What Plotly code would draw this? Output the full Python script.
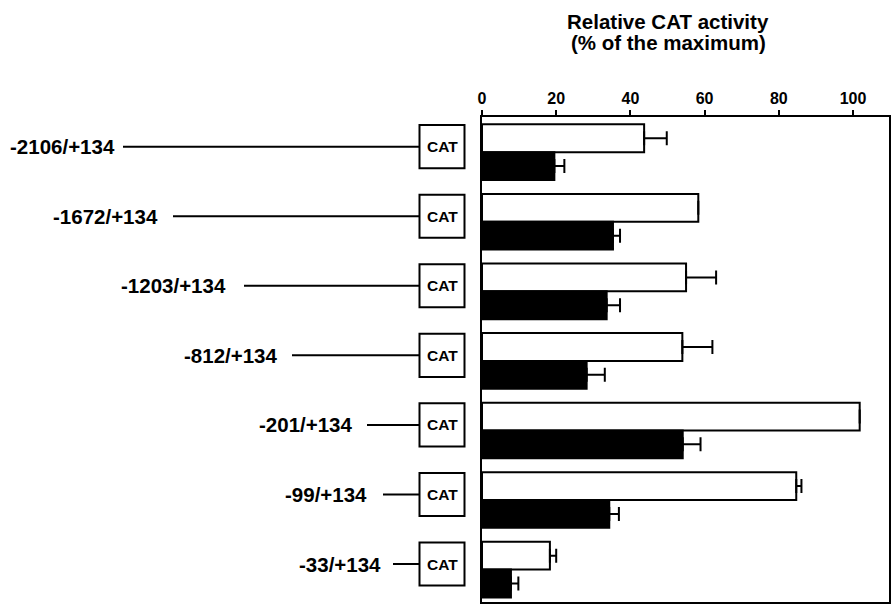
import plotly.graph_objects as go

# ---------------- data ----------------
constructs = ["-2106/+134", "-1672/+134", "-1203/+134", "-812/+134",
              "-201/+134", "-99/+134", "-33/+134"]
open_values = [43.7, 58.3, 55.0, 54.0, 101.8, 84.7, 18.3]
open_errors = [6.1, 0.0, 8.1, 8.1, 0.0, 1.4, 1.7]
filled_values = [19.5, 35.3, 33.6, 28.2, 54.1, 34.3, 7.8]
filled_errors = [2.7, 1.9, 3.6, 4.9, 4.8, 2.6, 2.0]
x_ticks = [0, 20, 40, 60, 80, 100]

# ---------------- layout helpers ----------------
W, H = 893, 606
L, R, T, B = 482, 4, 117, 2
PW = W - L - R
PH = H - T - B

def px_x(p):
    return (p - L) / PW

def px_y(p):
    return 1 - (p - T) / PH

# label right edge and line start (pixels) per construct
label_right_px = [117, 160, 228, 280, 355, 369, 383]
line_start_px = [123, 173, 244, 292, 367, 383, 393]
box_left_px, box_right_px = 419.5, 464.5
row_offset = -0.08
box_half = 0.31

pos = list(range(len(constructs)))
zeros = [0] * len(constructs)

fig = go.Figure()
fig.add_trace(go.Bar(
    y=pos, x=open_values, orientation="h",
    marker=dict(color="white", line=dict(color="black", width=2)),
    error_x=dict(type="data", array=open_errors, arrayminus=zeros, symmetric=False,
                 color="black", thickness=2, width=7),
    showlegend=False, hoverinfo="x",
))
fig.add_trace(go.Bar(
    y=pos, x=filled_values, orientation="h",
    marker=dict(color="black", line=dict(color="black", width=2)),
    error_x=dict(type="data", array=filled_errors, arrayminus=zeros, symmetric=False,
                 color="black", thickness=2, width=7),
    showlegend=False, hoverinfo="x",
))

font_family = "Liberation Sans, Arial, Helvetica, sans-serif"
shapes = []
annotations = []
for i, name in enumerate(constructs):
    yc = i + row_offset
    annotations.append(dict(
        text=name, xref="paper", yref="y", x=px_x(label_right_px[i]), y=yc,
        xanchor="right", yanchor="middle", showarrow=False,
        font=dict(family=font_family, size=20.5, color="black", weight="bold"),
    ))
    shapes.append(dict(type="line", xref="paper", yref="y",
                       x0=px_x(line_start_px[i]), x1=px_x(box_left_px), y0=yc, y1=yc,
                       line=dict(color="black", width=2)))
    shapes.append(dict(type="rect", xref="paper", yref="y",
                       x0=px_x(box_left_px), x1=px_x(box_right_px),
                       y0=yc - box_half, y1=yc + box_half,
                       line=dict(color="black", width=2), fillcolor="white"))
    annotations.append(dict(
        text="CAT", xref="paper", yref="y",
        x=px_x((box_left_px + box_right_px) / 2), y=yc,
        xanchor="center", yanchor="middle", showarrow=False,
        font=dict(family=font_family, size=15.5, color="black", weight="bold"),
    ))

annotations.append(dict(
    text="Relative CAT activity", xref="paper", yref="paper",
    x=px_x(668), y=px_y(20.7), xanchor="center", yanchor="middle", showarrow=False,
    font=dict(family=font_family, size=20.5, color="black", weight="bold"),
))
annotations.append(dict(
    text="(% of the maximum)", xref="paper", yref="paper",
    x=px_x(668), y=px_y(42), xanchor="center", yanchor="middle", showarrow=False,
    font=dict(family=font_family, size=20.5, color="black", weight="bold"),
))

fig.update_layout(
    width=W, height=H,
    margin=dict(l=L, r=R, t=T, b=B, pad=0),
    paper_bgcolor="white", plot_bgcolor="white",
    barmode="group", bargap=0.2, bargroupgap=0.0,
    shapes=shapes, annotations=annotations,
    xaxis=dict(
        side="top", range=[0, 109.7], tickvals=x_ticks,
        ticktext=[str(v) for v in x_ticks],
        ticks="outside", ticklen=5, tickwidth=2, tickcolor="black",
        tickfont=dict(family=font_family, size=16, color="black", weight="bold"),
        showline=True, linewidth=2, linecolor="black", mirror=True,
        showgrid=False, zeroline=False,
    ),
    yaxis=dict(
        range=[6.466, -0.506], showticklabels=False, ticks="",
        showline=True, linewidth=2, linecolor="black", mirror=True,
        showgrid=False, zeroline=False,
    ),
    font=dict(family=font_family, color="black"),
)

fig.write_html("out.html",
               config={"displayModeBar": False},
               post_script="document.body.style.margin='0px';document.body.style.overflow='hidden';")
